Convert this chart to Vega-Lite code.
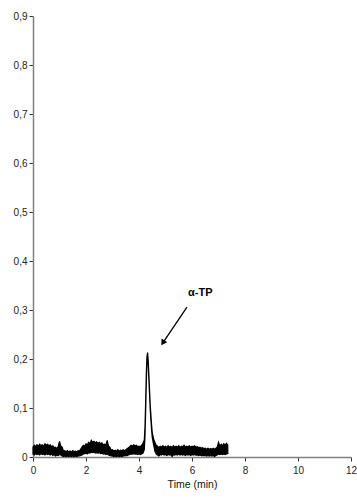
{
  "$schema": "https://vega.github.io/schema/vega-lite/v6.json",
  "width": 318,
  "height": 441,
  "autosize": "none",
  "padding": {"left": 33, "top": 16, "right": 6, "bottom": 42},
  "background": "white",
  "config": {"view": {"stroke": null}, "font": "Liberation Sans"},
  "datasets": {
    "trace": [
      {"t":0.00,"lo":0.006,"hi":0.020},{"t":0.05,"lo":0.004,"hi":0.024},{"t":0.10,"lo":0.007,"hi":0.021},{"t":0.15,"lo":0.005,"hi":0.025},{"t":0.20,"lo":0.006,"hi":0.022},{"t":0.25,"lo":0.004,"hi":0.026},{"t":0.30,"lo":0.007,"hi":0.023},{"t":0.35,"lo":0.005,"hi":0.025},{"t":0.40,"lo":0.006,"hi":0.022},{"t":0.45,"lo":0.004,"hi":0.027},{"t":0.50,"lo":0.007,"hi":0.024},{"t":0.55,"lo":0.005,"hi":0.026},{"t":0.60,"lo":0.006,"hi":0.023},{"t":0.65,"lo":0.004,"hi":0.025},{"t":0.70,"lo":0.006,"hi":0.021},{"t":0.75,"lo":0.003,"hi":0.023},{"t":0.80,"lo":0.005,"hi":0.019},{"t":0.85,"lo":0.002,"hi":0.020},{"t":0.90,"lo":0.004,"hi":0.017},{"t":0.95,"lo":0.003,"hi":0.021},{"t":1.00,"lo":0.005,"hi":0.032},{"t":1.05,"lo":0.004,"hi":0.022},{"t":1.10,"lo":0.002,"hi":0.020},{"t":1.15,"lo":0.001,"hi":0.012},{"t":1.20,"lo":0.002,"hi":0.013},{"t":1.25,"lo":0.001,"hi":0.011},{"t":1.30,"lo":0.002,"hi":0.013},{"t":1.35,"lo":0.001,"hi":0.010},{"t":1.40,"lo":0.002,"hi":0.012},{"t":1.45,"lo":0.001,"hi":0.010},{"t":1.50,"lo":0.002,"hi":0.013},{"t":1.55,"lo":0.001,"hi":0.011},{"t":1.60,"lo":0.002,"hi":0.012},{"t":1.65,"lo":0.001,"hi":0.010},{"t":1.70,"lo":0.002,"hi":0.013},{"t":1.75,"lo":0.002,"hi":0.012},{"t":1.80,"lo":0.003,"hi":0.016},{"t":1.85,"lo":0.004,"hi":0.020},{"t":1.90,"lo":0.006,"hi":0.024},{"t":1.95,"lo":0.007,"hi":0.022},{"t":2.00,"lo":0.008,"hi":0.027},{"t":2.05,"lo":0.006,"hi":0.025},{"t":2.10,"lo":0.009,"hi":0.030},{"t":2.15,"lo":0.008,"hi":0.027},{"t":2.20,"lo":0.010,"hi":0.034},{"t":2.25,"lo":0.009,"hi":0.030},{"t":2.30,"lo":0.010,"hi":0.032},{"t":2.35,"lo":0.008,"hi":0.029},{"t":2.40,"lo":0.009,"hi":0.031},{"t":2.45,"lo":0.008,"hi":0.028},{"t":2.50,"lo":0.009,"hi":0.030},{"t":2.55,"lo":0.007,"hi":0.027},{"t":2.60,"lo":0.008,"hi":0.029},{"t":2.65,"lo":0.006,"hi":0.025},{"t":2.70,"lo":0.007,"hi":0.026},{"t":2.75,"lo":0.005,"hi":0.024},{"t":2.80,"lo":0.006,"hi":0.034},{"t":2.85,"lo":0.004,"hi":0.022},{"t":2.90,"lo":0.003,"hi":0.020},{"t":2.95,"lo":0.002,"hi":0.014},{"t":3.00,"lo":0.002,"hi":0.015},{"t":3.05,"lo":0.001,"hi":0.012},{"t":3.10,"lo":0.002,"hi":0.014},{"t":3.15,"lo":0.001,"hi":0.012},{"t":3.20,"lo":0.002,"hi":0.015},{"t":3.25,"lo":0.001,"hi":0.012},{"t":3.30,"lo":0.002,"hi":0.014},{"t":3.35,"lo":0.001,"hi":0.013},{"t":3.40,"lo":0.002,"hi":0.015},{"t":3.45,"lo":0.002,"hi":0.013},{"t":3.50,"lo":0.003,"hi":0.015},{"t":3.55,"lo":0.003,"hi":0.017},{"t":3.60,"lo":0.004,"hi":0.019},{"t":3.65,"lo":0.005,"hi":0.021},{"t":3.70,"lo":0.006,"hi":0.024},{"t":3.75,"lo":0.006,"hi":0.022},{"t":3.80,"lo":0.007,"hi":0.025},{"t":3.85,"lo":0.006,"hi":0.023},{"t":3.90,"lo":0.006,"hi":0.024},{"t":3.95,"lo":0.005,"hi":0.021},{"t":4.00,"lo":0.006,"hi":0.022},{"t":4.05,"lo":0.005,"hi":0.021},{"t":4.10,"lo":0.006,"hi":0.024},{"t":4.15,"lo":0.008,"hi":0.028},{"t":4.20,"lo":0.015,"hi":0.035},{"t":4.225,"lo":0.040,"hi":0.060},{"t":4.25,"lo":0.090,"hi":0.110},{"t":4.275,"lo":0.150,"hi":0.170},{"t":4.30,"lo":0.195,"hi":0.205},{"t":4.325,"lo":0.207,"hi":0.213},{"t":4.35,"lo":0.185,"hi":0.195},{"t":4.375,"lo":0.155,"hi":0.165},{"t":4.40,"lo":0.125,"hi":0.135},{"t":4.425,"lo":0.095,"hi":0.105},{"t":4.45,"lo":0.075,"hi":0.085},{"t":4.475,"lo":0.055,"hi":0.065},{"t":4.50,"lo":0.040,"hi":0.050},{"t":4.55,"lo":0.025,"hi":0.037},{"t":4.60,"lo":0.012,"hi":0.030},{"t":4.65,"lo":0.006,"hi":0.024},{"t":4.70,"lo":0.004,"hi":0.022},{"t":4.75,"lo":0.002,"hi":0.019},{"t":4.80,"lo":0.005,"hi":0.022},{"t":4.85,"lo":0.004,"hi":0.020},{"t":4.90,"lo":0.006,"hi":0.023},{"t":4.95,"lo":0.004,"hi":0.020},{"t":5.00,"lo":0.005,"hi":0.022},{"t":5.05,"lo":0.003,"hi":0.019},{"t":5.10,"lo":0.005,"hi":0.023},{"t":5.15,"lo":0.004,"hi":0.020},{"t":5.20,"lo":0.005,"hi":0.022},{"t":5.25,"lo":0.001,"hi":0.019},{"t":5.30,"lo":0.005,"hi":0.023},{"t":5.35,"lo":0.004,"hi":0.020},{"t":5.40,"lo":0.005,"hi":0.022},{"t":5.45,"lo":0.004,"hi":0.020},{"t":5.50,"lo":0.006,"hi":0.023},{"t":5.55,"lo":0.004,"hi":0.019},{"t":5.60,"lo":0.005,"hi":0.022},{"t":5.65,"lo":0.004,"hi":0.021},{"t":5.70,"lo":0.005,"hi":0.024},{"t":5.75,"lo":0.003,"hi":0.020},{"t":5.80,"lo":0.005,"hi":0.022},{"t":5.85,"lo":0.004,"hi":0.021},{"t":5.90,"lo":0.005,"hi":0.023},{"t":5.95,"lo":0.003,"hi":0.020},{"t":6.00,"lo":0.005,"hi":0.022},{"t":6.05,"lo":0.004,"hi":0.021},{"t":6.10,"lo":0.005,"hi":0.023},{"t":6.15,"lo":0.004,"hi":0.020},{"t":6.20,"lo":0.004,"hi":0.021},{"t":6.25,"lo":0.003,"hi":0.019},{"t":6.30,"lo":0.004,"hi":0.020},{"t":6.35,"lo":0.003,"hi":0.018},{"t":6.40,"lo":0.003,"hi":0.019},{"t":6.45,"lo":0.003,"hi":0.017},{"t":6.50,"lo":0.003,"hi":0.018},{"t":6.55,"lo":0.002,"hi":0.016},{"t":6.60,"lo":0.003,"hi":0.018},{"t":6.65,"lo":0.002,"hi":0.016},{"t":6.70,"lo":0.003,"hi":0.017},{"t":6.75,"lo":0.002,"hi":0.016},{"t":6.80,"lo":0.003,"hi":0.018},{"t":6.85,"lo":0.001,"hi":0.016},{"t":6.90,"lo":0.003,"hi":0.018},{"t":6.95,"lo":0.004,"hi":0.020},{"t":7.00,"lo":0.006,"hi":0.030},{"t":7.05,"lo":0.005,"hi":0.022},{"t":7.10,"lo":0.006,"hi":0.026},{"t":7.15,"lo":0.005,"hi":0.023},{"t":7.20,"lo":0.006,"hi":0.027},{"t":7.25,"lo":0.005,"hi":0.024},{"t":7.30,"lo":0.006,"hi":0.028},{"t":7.35,"lo":0.007,"hi":0.024}
    ],
    "label": [{"t": 5.85, "v": 0.335, "text": "α-TP"}],
    "arrow": [{"t1": 5.81, "v1": 0.306, "t2": 4.90, "v2": 0.233}]
  },
  "layer": [
    {
      "data": {"name": "trace"},
      "mark": {"type": "area", "color": "black", "fill": "black", "stroke": "black", "strokeWidth": 1.2, "opacity": 1},
      "encoding": {
        "x": {
          "field": "t", "type": "quantitative",
          "scale": {"domain": [0, 12], "nice": false, "zero": false},
          "axis": {
            "title": "Time (min)", "values": [0, 2, 4, 6, 8, 10, 12], "grid": false,
            "domainColor": "#808080", "domainWidth": 1.5, "tickColor": "#333", "tickSize": 4,
            "labelFontSize": 10, "labelColor": "#222", "labelPadding": 4, "labelFlush": false,
            "titleFontSize": 10.5, "titleFontWeight": "normal", "titleColor": "#111", "titlePadding": 4
          }
        },
        "y": {
          "field": "lo", "type": "quantitative",
          "scale": {"domain": [0, 0.9], "nice": false},
          "axis": {
            "title": null, "values": [0, 0.1, 0.2, 0.3, 0.4, 0.5, 0.6, 0.7, 0.8, 0.9], "grid": false,
            "domainColor": "#808080", "domainWidth": 1.5, "tickColor": "#333", "tickSize": 4,
            "labelFontSize": 10, "labelColor": "#222", "labelPadding": 2,
            "labelExpr": "datum.value == 0 ? '0' : replace(format(datum.value, '.1f'), '.', ',')"
          }
        },
        "y2": {"field": "hi"}
      }
    },
    {
      "data": {"name": "arrow"},
      "mark": {"type": "rule", "color": "black", "strokeWidth": 1.3},
      "encoding": {
        "x": {"field": "t1", "type": "quantitative"},
        "y": {"field": "v1", "type": "quantitative"},
        "x2": {"field": "t2"},
        "y2": {"field": "v2"}
      }
    },
    {
      "data": {"name": "arrow"},
      "mark": {"type": "point", "shape": "triangle-up", "filled": true, "color": "black", "size": 45, "angle": 213, "opacity": 1},
      "encoding": {
        "x": {"field": "t2", "type": "quantitative"},
        "y": {"field": "v2", "type": "quantitative"}
      }
    },
    {
      "data": {"name": "label"},
      "mark": {"type": "text", "align": "left", "baseline": "middle", "fontSize": 11, "fontWeight": "bold", "color": "black"},
      "encoding": {
        "x": {"field": "t", "type": "quantitative"},
        "y": {"field": "v", "type": "quantitative"},
        "text": {"field": "text"}
      }
    }
  ]
}
